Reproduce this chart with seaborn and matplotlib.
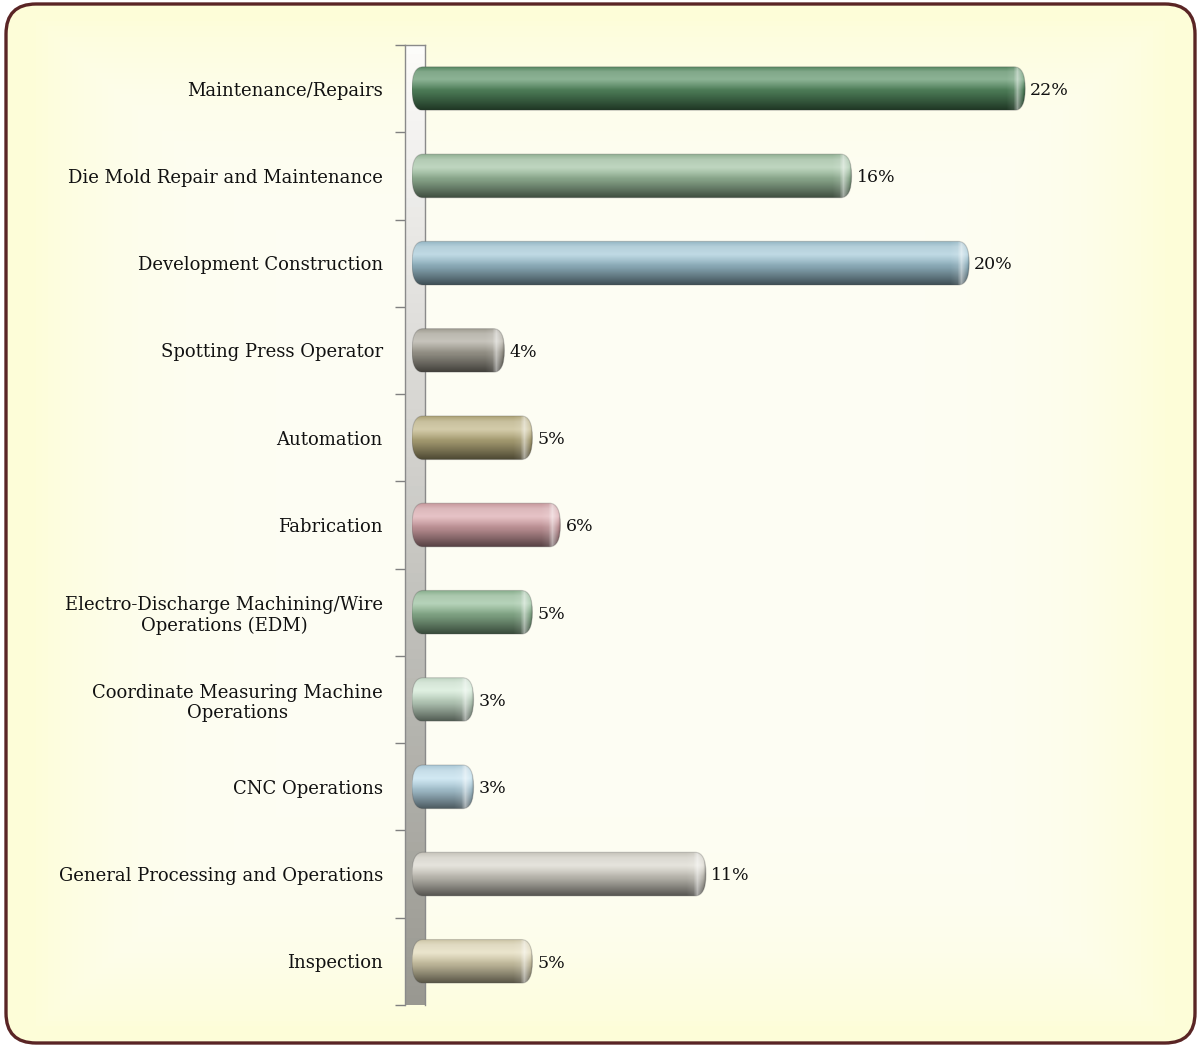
import numpy as np
import matplotlib
matplotlib.use("Agg")
import matplotlib.pyplot as plt
import seaborn as sns
from matplotlib.patches import FancyBboxPatch
from matplotlib.colors import to_rgb

categories = ["Maintenance/Repairs", "Die Mold Repair and Maintenance", "Development Construction",
              "Spotting Press Operator", "Automation", "Fabrication",
              "Electro-Discharge Machining/Wire\nOperations (EDM)",
              "Coordinate Measuring Machine\nOperations", "CNC Operations",
              "General Processing and Operations", "Inspection"]
shares = [21.9, 15.7, 19.9, 3.3, 4.3, 5.3, 4.3, 2.2, 2.2, 10.5, 4.3]
share_labels = ["22%", "16%", "20%", "4%", "5%", "6%", "5%", "3%", "3%", "11%", "5%"]
bar_colors = ["#4f8a5c", "#9cc09e", "#9ec6d6", "#a8a497", "#bcb07c", "#d9a3a8",
              "#8fbb94", "#cfe8d2", "#b9dcec", "#d8d5ca", "#e0d7b2"]

sns.set_theme(style="white")
plt.rcParams['font.family'] = ['DejaVu Serif']

W, H = 1201, 1047
fig = plt.figure(figsize=(W / 100, H / 100), dpi=100)
fig.patch.set_facecolor("white")

# background panel with soft gradient
bg = fig.add_axes([0, 0, 1, 1], zorder=0)
bg.set_axis_off()
yy, xx = np.mgrid[0:1:200j, 0:1:200j]
inner = np.clip(1 - np.maximum(np.abs(xx - 0.5) * 2.1, np.abs(yy - 0.5) * 2.05) ** 6, 0, 1)
pale = np.array(to_rgb("#fdfdd8"))
light = np.array(to_rgb("#fefef4"))
img = pale[None, None, :] * (1 - inner[..., None]) + light[None, None, :] * inner[..., None]
bg.imshow(img, extent=(0, 1, 0, 1), aspect="auto", zorder=0)
frame = FancyBboxPatch((6 / W, 4 / H), 1 - 12 / W, 1 - 8 / H,
                       boxstyle="round,pad=0,rounding_size=0.025", mutation_aspect=W / H,
                       transform=bg.transAxes, facecolor="none", edgecolor="#5a2525", lw=2.4, zorder=2)
bg.add_patch(frame)
bg.set_xlim(0, 1)
bg.set_ylim(0, 1)
# mask the corners outside the frame
corner_mask = FancyBboxPatch((6 / W, 4 / H), 1 - 12 / W, 1 - 8 / H,
                             boxstyle="round,pad=0,rounding_size=0.025", mutation_aspect=W / H,
                             transform=bg.transAxes, facecolor="none", edgecolor="none")
bg.add_patch(corner_mask)
bg.images[0].set_clip_path(corner_mask)

ax_left, ax_bottom = 412 / W, 42 / H
ax_w, ax_h = 700 / W, 960 / H

# side wall of the 3D chart
wall = fig.add_axes([405 / W, ax_bottom, 20 / W, ax_h], zorder=1)
wall_grad = np.linspace(0, 1, 100)[:, None]
top_c, bot_c = np.array(to_rgb("#fcfcfa")), np.array(to_rgb("#999891"))
wall_img = top_c * (1 - wall_grad[..., None]) + bot_c * wall_grad[..., None]
wall.imshow(wall_img, extent=(0, 1, 10.5, -0.5), aspect="auto")
wall.set_xlim(0, 1)
wall.set_ylim(10.5, -0.5)
wall.set_xticks([])
wall.set_yticks(np.arange(-0.5, 11, 1))
wall.set_yticklabels([])
wall.tick_params(axis="y", length=7, width=1, color="#808080", left=True, direction="out")
for s in wall.spines.values():
    s.set_color("#8a8a8a")
    s.set_linewidth(1)
wall.spines["bottom"].set_visible(False)

ax = fig.add_axes([ax_left, ax_bottom, ax_w, ax_h], zorder=2)
ax.set_facecolor("none")
sns.barplot(x=shares, y=categories, hue=categories, palette=bar_colors, orient="h",
            width=0.5, legend=False, ax=ax)
ax.set_xlim(0, 25)
ax.set_ylim(10.5, -0.5)
sns.despine(ax=ax, left=True, bottom=True)
ax.set_xticks([])
ax.set_xlabel("")
ax.set_ylabel("")
ax.tick_params(axis="y", length=0, pad=21, labelsize=13, labelcolor="#111111")
for lab in ax.get_yticklabels():
    lab.set_multialignment("center")
    lab.set_y(lab.get_position()[1])

fig.canvas.draw()
px_per_x = ax_w * W / 25
px_per_y = ax_h * H / 11

def cylinder(color, ncols):
    base = np.array(to_rgb(color))
    t = np.linspace(0, 1, 60)
    light_amt = np.interp(t, [0, 0.12, 0.3, 0.55, 1], [0.05, 0.3, 0.35, 0.05, 0])
    dark_amt = np.interp(t, [0, 0.3, 0.6, 1], [0.1, 0.0, 0.2, 0.6])
    col = base * (1 - dark_amt[:, None])
    col = col + (1 - col) * light_amt[:, None]
    im = np.repeat(col[:, None, :], ncols, axis=1)
    c = np.arange(ncols)
    end = ncols - c
    hl = np.interp(end, [0, 4, 9, 13, 20, 10000], [-0.35, 0.1, 0.5, 0.1, 0, 0])
    im = np.where(hl[None, :, None] > 0, im + (1 - im) * hl[None, :, None],
                  im * (1 + hl[None, :, None]))
    return np.clip(im, 0, 1)

for bar, color, lab in zip(list(ax.patches), bar_colors, share_labels):
    x0, y0 = bar.get_x(), bar.get_y()
    w, h = bar.get_width(), bar.get_height()
    bar.set_visible(False)
    r = 11 / px_per_x
    aspect = (h / 2) / r * 0.98
    shape = FancyBboxPatch((x0, y0), w, h, boxstyle=f"round,pad=0,rounding_size={r}",
                           mutation_aspect=aspect, facecolor="none",
                           edgecolor=(0.3, 0.3, 0.3, 0.25), lw=0.8, zorder=3)
    ax.add_patch(shape)
    ncols = max(int(w * px_per_x), 2)
    im = ax.imshow(cylinder(color, ncols), extent=(x0, x0 + w, y0 + h, y0),
                   aspect="auto", zorder=2, interpolation="bilinear")
    im.set_clip_path(shape)
    ax.text(x0 + w + 5 / px_per_x, y0 + h / 2 + 0.02, lab, va="center", ha="left",
            fontsize=12.5, color="#111111")

ax.set_xlim(0, 25)
ax.set_ylim(10.5, -0.5)

fig.savefig("out.png", dpi=100)
